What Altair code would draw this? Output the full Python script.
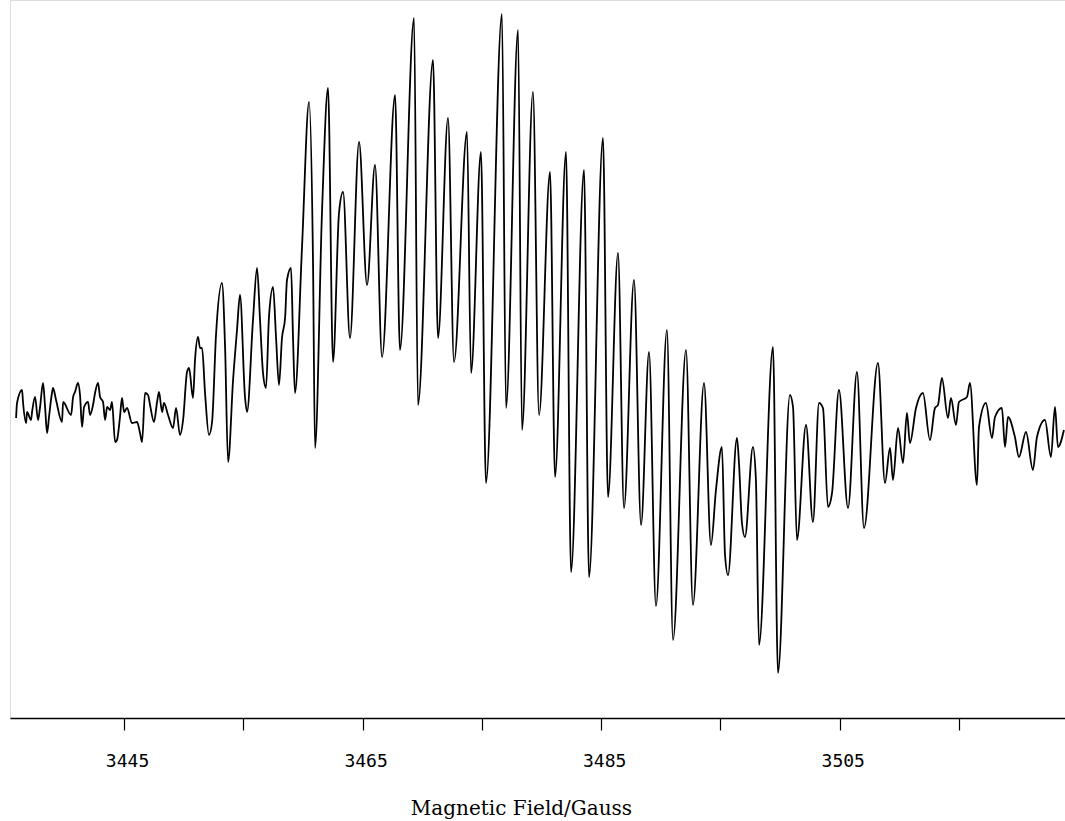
import altair as alt
import pandas as pd

# Magnetic field (Gauss) of the traced points of the EPR derivative spectrum
field = [
    3435.95, 3436.03, 3436.45, 3436.53, 3436.79, 3436.87, 3437.20, 3437.29, 3437.54, 3437.79,
    3437.96, 3438.21, 3438.38, 3438.55, 3438.71, 3438.96, 3439.05, 3439.30, 3439.80, 3439.89,
    3440.56, 3440.73, 3440.89, 3441.14, 3441.31, 3441.48, 3441.65, 3441.98, 3442.15, 3442.40,
    3442.57, 3442.82, 3442.99, 3443.24, 3443.41, 3443.58, 3443.83, 3443.99, 3444.25, 3444.41,
    3444.66, 3444.83, 3445.00, 3445.25, 3445.67, 3446.09, 3446.34, 3446.51, 3446.76, 3447.01,
    3447.18, 3447.51, 3447.77, 3447.93, 3448.19, 3448.35, 3448.69, 3449.11, 3449.36, 3449.69,
    3449.95, 3450.28, 3450.45, 3450.78, 3450.95, 3451.20, 3451.37, 3451.54, 3451.79, 3452.12,
    3452.38, 3452.71, 3453.21, 3453.47, 3453.72, 3454.14, 3454.47, 3454.72, 3455.14, 3455.31,
    3455.81, 3456.15, 3456.40, 3456.65, 3456.90, 3457.15, 3457.49, 3457.74, 3457.99, 3458.24,
    3458.50, 3458.66, 3459.00, 3459.17, 3459.33, 3459.92, 3460.51, 3460.84, 3461.01, 3461.60,
    3462.10, 3462.52, 3463.02, 3463.36, 3463.94, 3464.70, 3465.37, 3466.04, 3466.63, 3467.72,
    3468.13, 3469.31, 3469.64, 3470.90, 3471.32, 3472.16, 3472.66, 3473.75, 3474.09, 3474.92,
    3475.34, 3476.68, 3477.02, 3478.03, 3478.36, 3479.28, 3479.79, 3480.71, 3481.13, 3482.05,
    3482.47, 3483.56, 3483.98, 3485.15, 3485.57, 3486.41, 3486.91, 3487.75, 3488.34, 3489.01,
    3489.59, 3490.51, 3491.02, 3492.11, 3492.69, 3493.62, 3494.20, 3494.62, 3495.12, 3495.38,
    3495.63, 3496.38, 3496.55, 3496.80, 3497.05, 3497.72, 3497.97, 3498.23, 3499.40, 3499.82,
    3500.82, 3501.08, 3501.41, 3502.17, 3502.75, 3503.26, 3503.59, 3504.01, 3504.35, 3504.93,
    3505.69, 3506.44, 3507.03, 3508.20, 3508.79, 3509.21, 3509.46, 3509.88, 3510.30, 3510.63,
    3510.88, 3511.39, 3511.97, 3512.56, 3512.98, 3513.23, 3513.56, 3514.07, 3514.32, 3514.74,
    3514.99, 3515.66, 3515.91, 3516.50, 3516.67, 3517.25, 3517.76, 3518.01, 3518.59, 3518.85,
    3519.10, 3519.68, 3520.02, 3520.61, 3521.19, 3521.53, 3522.20, 3522.70, 3523.04, 3523.29,
    3523.79,
]

# First-derivative signal (arbitrary units) at those fields
signal = [
    -13, 2, 15, 3, -18, -7, -15, -7, 8, -15,
    -2, 22, -2, -28, -12, 12, 17, 5, -17, 3,
    -10, 8, 13, 22, 10, -22, -2, 3, -10, 0,
    12, 22, 8, 3, -15, -2, -5, 3, -37, -35,
    -12, 7, -7, -3, -18, -17, -28, -37, 12, 10,
    0, -17, 3, 13, -7, 2, -10, -23, -3, -30,
    -15, 33, 37, 7, 45, 68, 57, 57, 12, -30,
    -17, 70, 122, 58, -57, 25, 75, 110, 8, -7,
    85, 137, 85, 32, 17, 88, 118, 68, 20, 67,
    87, 125, 137, 65, 12, 158, 303, 145, -43, 195,
    317, 43, 192, 213, 67, 263, 120, 240, 48, 310,
    55, 387, 0, 345, 67, 287, 43, 273, 32, 253,
    -78, 391, -3, 375, -25, 313, -10, 233, -72, 253,
    -167, 235, -172, 267, -92, 152, -103, 125, -120, 53,
    -201, 75, -235, 55, -200, 22, -140, -85, -42, -150,
    -170, -33, -58, -118, -132, -42, -75, -240, 58, -268,
    10, -2, -135, -20, -117, 2, -3, -102, -88, 15,
    -103, 33, -123, 42, -78, -43, -75, -23, -58, -8,
    -38, -3, 12, -35, -3, 0, 27, -13, 7, -20,
    3, 8, 22, -80, -22, 2, -33, -12, -3, -42,
    -12, -32, -52, -27, -65, -32, -15, -52, -2, -42,
    -25,
]

df = pd.DataFrame({"field": field, "signal": signal})

x_ticks = [3445, 3455, 3465, 3475, 3485, 3495, 3505, 3515]
field_domain = [3435.44, 3523.88]
signal_domain = [-313, 405]

chart = (
    alt.Chart(df)
    .mark_line(color="black", strokeWidth=1.8, interpolate="monotone")
    .encode(
        x=alt.X(
            "field:Q",
            scale=alt.Scale(domain=field_domain, nice=False, zero=False),
            axis=alt.Axis(
                values=x_ticks,
                format="d",
                labelExpr="datum.value % 20 == 5 ? datum.label : ''",
                title="Magnetic Field/Gauss",
                titleFont="DejaVu Serif",
                titleFontSize=20,
                titleFontWeight="normal",
                titleColor="black",
                titleY=80,
                titleX=511,
                labelFont="DejaVu Sans Mono",
                labelFontSize=18,
                labelFontWeight="normal",
                labelColor="black",
                labelPadding=22,
                labelOffset=3,
                tickSize=12,
                tickColor="black",
                tickWidth=1.2,
                domainColor="black",
                domainWidth=1.6,
                grid=False,
            ),
        ),
        y=alt.Y(
            "signal:Q",
            scale=alt.Scale(domain=signal_domain, nice=False, zero=False),
            axis=None,
        ),
    )
    .properties(
        width=1055,
        height=718,
        autosize=alt.AutoSizeParams(type="none"),
        padding={"left": 10, "top": 0, "right": 0, "bottom": 103},
    )
    .configure_view(stroke=None)
    .configure(background="white")
)

chart.save("out.html", embed_options={"renderer": "svg", "actions": False})
